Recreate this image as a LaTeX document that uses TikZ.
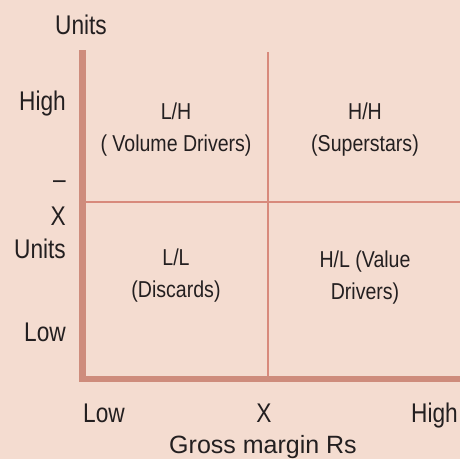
\documentclass[tikz,border=0pt]{standalone}
\usepackage{fontspec}
\setmainfont{Liberation Sans}
\newfontfamily\narrowfont[FakeStretch=0.84]{Liberation Sans}
\newfontfamily\quadfont[FakeStretch=0.85]{Liberation Sans}
\definecolor{paper}{RGB}{244,220,208}
\definecolor{axiscol}{RGB}{206,140,124}
\definecolor{gridcol}{RGB}{216,138,124}
\definecolor{ink}{RGB}{35,31,32}
\tikzset{
  axisline/.style={draw=axiscol, line width=6.5pt},
  gridline/.style={draw=gridcol, line width=2pt},
  lbl/.style={inner sep=0pt, text=ink, font=\narrowfont\fontsize{27}{28}\selectfont},
  quad/.style={inner sep=0pt, text=ink, align=center, font=\quadfont\fontsize{23}{32}\selectfont},
}
\begin{document}
\begin{tikzpicture}[x=1pt, y=-1pt]
  % page with its margins
  \fill[paper] (0,0) rectangle (460,459);
  \useasboundingbox (0,0) rectangle (460,459);

  % quadrant dividers
  \coordinate (vtop) at (268,52);
  \coordinate (vbot) at (268,379);
  \coordinate (hleft) at (86,202);
  \coordinate (hright) at (460,202);
  \draw[gridline] (vtop) -- (vbot);
  \draw[gridline] (hleft) -- (hright);

  % axes
  \coordinate (yaxtop) at (82.7,50);
  \coordinate (yaxbot) at (82.7,382);
  \coordinate (xaxstart) at (79.4,379);
  \coordinate (xaxend) at (460,379);
  \draw[axisline] (yaxtop) -- (yaxbot);
  \draw[axisline] (xaxstart) -- (xaxend);

  % vertical axis labels
  \node[lbl, anchor=base] (units) at (81,34) {Units};
  \node[lbl, anchor=base east] (yhigh) at (66,110) {High};
  \node[lbl, anchor=base east] (ybar) at (66,188) {–};
  \node[lbl, anchor=base east] (yx) at (66,225) {X};
  \node[lbl, anchor=base east] (yunits) at (66,258) {Units};
  \node[lbl, anchor=base east] (ylow) at (66,341) {Low};

  % horizontal axis labels
  \node[lbl, anchor=base west] (xlow) at (83,422) {Low};
  \node[lbl, anchor=base] (xx) at (264,422) {X};
  \node[lbl, anchor=base east] (xhigh) at (458,422) {High};
  \node[inner sep=0pt, text=ink, anchor=base, font=\fontsize{25}{28}\selectfont] (xtitle) at (263,453.5) {Gross margin Rs};

  % quadrant captions
  \node[quad] (lh) at (176,130) {L/H\\( Volume Drivers)};
  \node[quad] (hh) at (365,130) {H/H\\(Superstars)};
  \node[quad] (ll) at (176,276) {L/L\\(Discards)};
  \node[quad] (hl) at (365,278) {H/L (Value\\Drivers)};
\end{tikzpicture}
\end{document}
